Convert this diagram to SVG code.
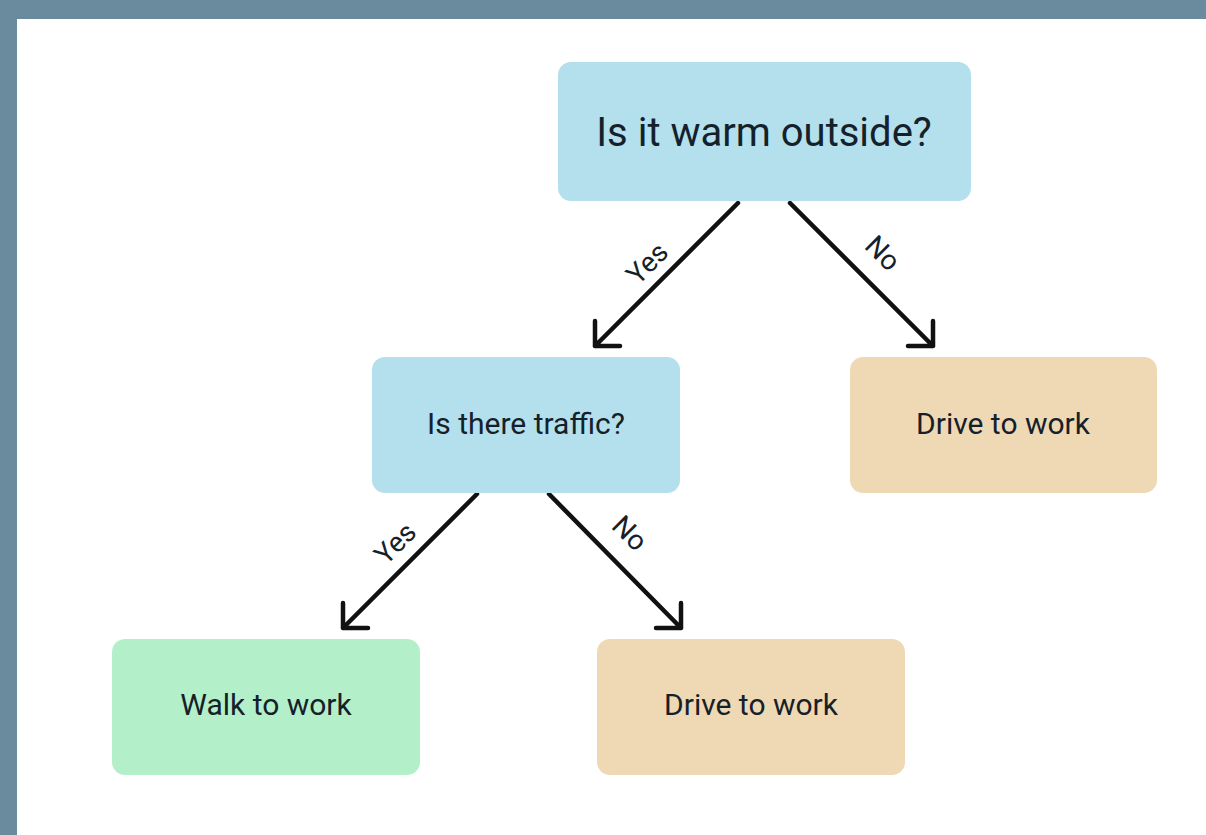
<svg xmlns="http://www.w3.org/2000/svg" width="1206" height="835" viewBox="0 0 1206 835">
<defs>
<style>
.q{fill:#b3e0ec}
.d{fill:#efd9b4}
.w{fill:#b3f0c9}
.t{font-family:Roboto,"Liberation Sans",sans-serif;fill:#15212a;text-anchor:middle}
.c{stroke:#111;stroke-width:4.5;fill:none;stroke-linecap:round;stroke-linejoin:round}
.l{font-family:Roboto,"Liberation Sans",sans-serif;font-size:28px;fill:#15212a;text-anchor:middle}
</style>
</defs>
<rect width="1206" height="835" fill="#ffffff"/>
<rect x="0" y="0" width="1206" height="19" fill="#6a8a9e"/>
<rect x="0" y="0" width="17" height="835" fill="#6a8a9e"/>
<g id="connectors">
<path class="c" d="M738 203 L595 346 M595 321 L595 346 L620 346"/>
<path class="c" d="M790 203 L933 346 M933 321 L933 346 L908 346"/>
<path class="c" d="M477 494 L343 628 M343 603 L343 628 L368 628"/>
<path class="c" d="M549 494 L681 628 M681 603 L681 628 L656 628"/>
<text class="l" transform="translate(654,270) rotate(-45)">Yes</text>
<text class="l" transform="translate(876,260) rotate(45)">No</text>
<text class="l" transform="translate(402,550) rotate(-45)">Yes</text>
<text class="l" transform="translate(623,540) rotate(45)">No</text>
</g>
<g id="n1"><rect class="q" x="558" y="62" width="413" height="139" rx="13"/><text class="t" x="764" y="146" font-size="40">Is it warm outside?</text></g>
<g id="n2"><rect class="q" x="372" y="357" width="308" height="136" rx="13"/><text class="t" x="526" y="434" font-size="30">Is there traffic?</text></g>
<g id="n3"><rect class="d" x="850" y="357" width="307" height="136" rx="13"/><text class="t" x="1003" y="434" font-size="30">Drive to work</text></g>
<g id="n4"><rect class="w" x="112" y="639" width="308" height="136" rx="13"/><text class="t" x="266" y="715" font-size="30">Walk to work</text></g>
<g id="n5"><rect class="d" x="597" y="639" width="308" height="136" rx="13"/><text class="t" x="751" y="715" font-size="30">Drive to work</text></g>
</svg>
